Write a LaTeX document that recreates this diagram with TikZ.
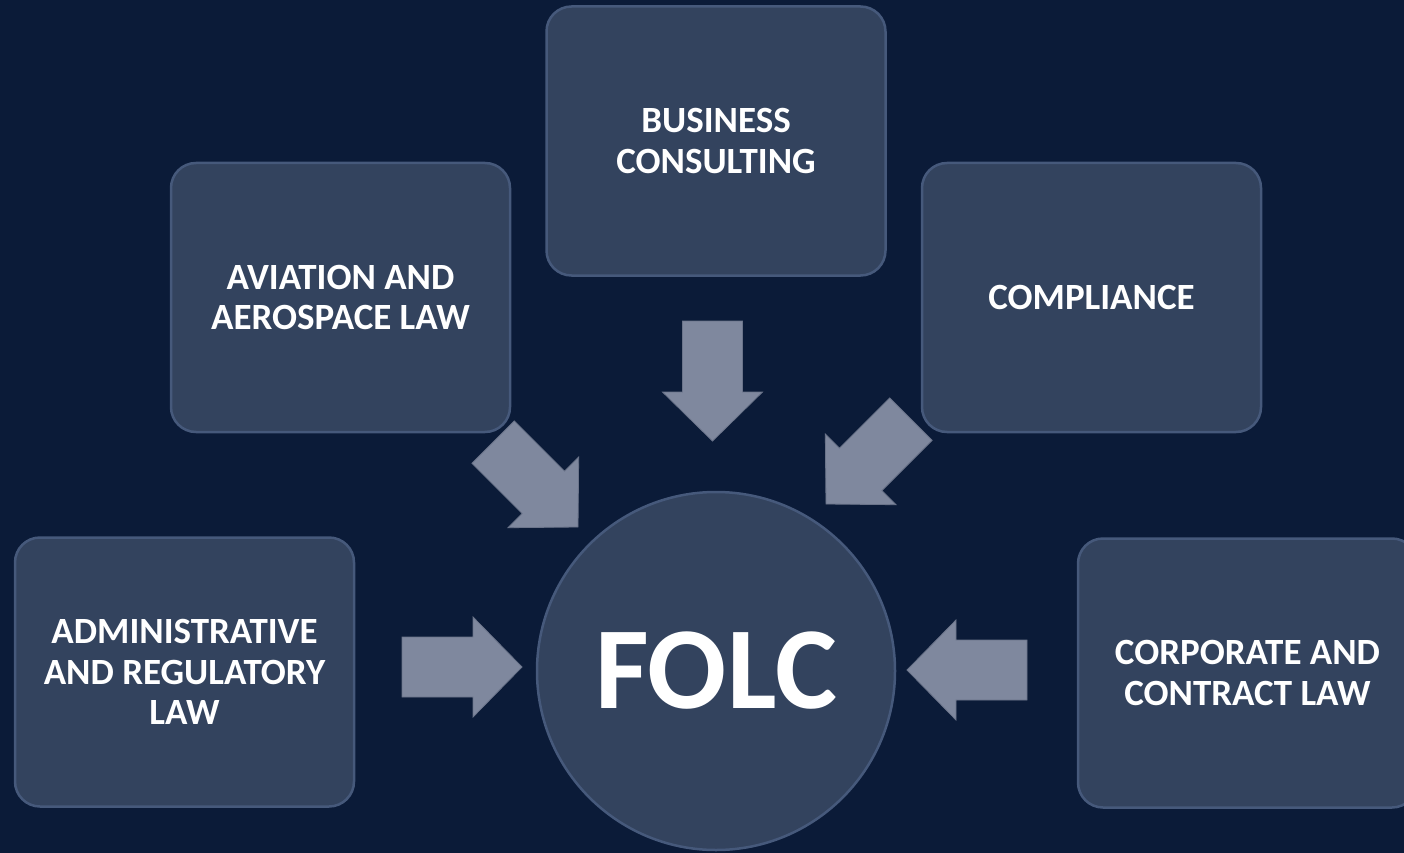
\documentclass[tikz,border=0pt]{standalone}
\usepackage{fontspec}
\setmainfont{Carlito}
\definecolor{bgc}{HTML}{0B1B38}
\definecolor{boxc}{HTML}{33435E}
\definecolor{edgec}{HTML}{46597B}
\definecolor{arrc}{HTML}{7F889E}
\definecolor{arredge}{HTML}{6B748A}
\tikzset{
  areabox/.style={rectangle, rounded corners=25pt, minimum width=339pt, minimum height=269pt,
    fill=boxc, draw=edgec, line width=2.5pt, text=white, align=center,
    font=\fontsize{37}{40.5}\selectfont\bfseries},
  hubnode/.style={circle, minimum size=358pt, fill=boxc, draw=edgec, line width=2.5pt,
    text=white, font=\fontsize{117}{120}\selectfont\bfseries, inner sep=0pt},
  blockarrow/.style={fill=arrc, draw=arredge, line width=0.8pt, line join=miter}
}
\newcommand{\blockarr}[2]{%
  \begin{scope}[shift={#1}, rotate=#2]
    \path[blockarrow] (0,0) -- (-49,50) -- (-49,30) -- (-120,30) -- (-120,-30) -- (-49,-30) -- (-49,-50) -- cycle;
  \end{scope}}
\begin{document}
\begin{tikzpicture}[x=1pt,y=-1pt]
\useasboundingbox (0,0) rectangle (1404,853);
\clip (0,0) rectangle (1404,853);
\fill[bgc] (0,0) rectangle (1404,853);
\node[areabox] (bus) at (716,141) {BUSINESS\\CONSULTING};
\node[areabox] (avi) at (340.5,297.5) {AVIATION AND\\AEROSPACE LAW};
\node[areabox] (comp) at (1091.5,297.5) {COMPLIANCE};
\node[areabox] (adm) at (184.5,672) {ADMINISTRATIVE\\AND REGULATORY\\LAW};
\node[areabox] (corp) at (1247.5,673) {CORPORATE AND\\CONTRACT LAW};
\node[hubnode] (folc) at (716,671) {FOLC};
\blockarr{(712.5,441)}{-90}
\blockarr{(578,527)}{-45}
\blockarr{(826,504)}{-135}
\blockarr{(522,667)}{0}
\blockarr{(907,670)}{180}
\end{tikzpicture}
\end{document}
